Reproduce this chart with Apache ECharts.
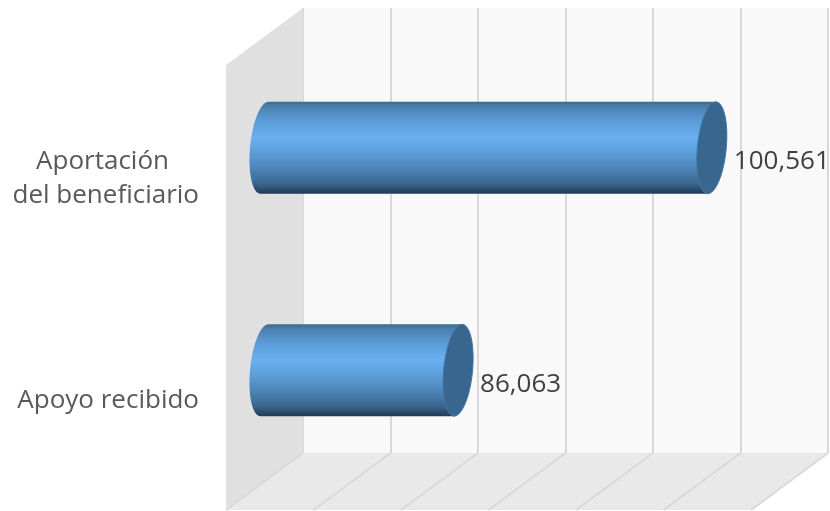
<!DOCTYPE html>
<html>
<head>
<meta charset="utf-8">
<style>
html, body { margin: 0; padding: 0; background: #fff; }
#chart { width: 830px; height: 511px; }
</style>
<script src="https://cdn.jsdelivr.net/npm/echarts@6/dist/echarts.min.js"></script>
</head>
<body>
<div id="chart"></div>
<script>
// values
const categories = ['Apoyo recibido', 'Aportación\ndel beneficiario']
const values = [86063, 100561]
const axisMin = 75000
const axisMax = 105000
const axisStep = 5000
const floorTicks = [75000, 80000, 85000, 90000, 95000, 100000, 105000]

// fake 3d: how far the front of the box sits from the back wall
const DEPTH_X = -77
const DEPTH_Y = 57

function ellipsePoints(cx, cy, rx, ry, skew, from, to) {
    const pts = []
    const steps = 36
    for (let i = 0; i <= steps; i++) {
        const t = from + (to - from) * i / steps
        pts.push([cx + rx * Math.cos(t) - skew * Math.sin(t), cy + ry * Math.sin(t)])
    }
    return pts
}

function renderWalls(params, api) {
    const tl = api.coord([axisMin, categories[1]])
    const left = tl[0]
    const right = api.coord([axisMax, categories[1]])[0]
    const top = params.coordSys.y
    const bottom = top + params.coordSys.height
    return {
        type: 'group',
        children: [{
            type: 'polygon',
            shape: { points: [[left, top], [left, bottom], [left + DEPTH_X, bottom + DEPTH_Y], [left + DEPTH_X, top + DEPTH_Y]] },
            style: { fill: '#e0e0e0' }
        }, {
            type: 'polygon',
            shape: { points: [[left, bottom], [right, bottom], [right + DEPTH_X, bottom + DEPTH_Y], [left + DEPTH_X, bottom + DEPTH_Y]] },
            style: { fill: '#e9e9e9' }
        }]
    }
}

function renderFloorLine(params, api) {
    const x = api.coord([api.value(0), categories[0]])[0]
    const bottom = params.coordSys.y + params.coordSys.height
    return {
        type: 'line',
        shape: { x1: x, y1: bottom, x2: x + DEPTH_X, y2: bottom + DEPTH_Y },
        style: { stroke: '#d9d9d9', lineWidth: 2 }
    }
}

function renderCylinder(params, api) {
    // bars stand halfway between the back wall and the front edge
    const end = api.coord([api.value(0), api.value(1)])
    const start = api.coord([axisMin, api.value(1)])
    const cy = end[1] + DEPTH_Y / 2
    const x0 = start[0] + DEPTH_X / 2
    const x1 = end[0] + DEPTH_X / 2
    const ry = api.size([0, 1])[1] * 0.2067
    const rx = 14.5
    const skew = 4
    const body = ellipsePoints(x0, cy, rx, ry, skew, Math.PI / 2, Math.PI * 1.5)
        .concat([[x1 + skew, cy - ry], [x1 - skew, cy + ry]])
    return {
        type: 'group',
        children: [{
            type: 'polygon',
            shape: { points: body },
            style: {
                fill: new echarts.graphic.LinearGradient(0, 0, 0, 1, [
                    { offset: 0, color: '#3c6a92' },
                    { offset: 0.05, color: '#4a7fae' },
                    { offset: 0.2, color: '#5a9bd6' },
                    { offset: 0.39, color: '#69b0f2' },
                    { offset: 0.55, color: '#5c9ed9' },
                    { offset: 0.75, color: '#4a81b3' },
                    { offset: 0.9, color: '#386389' },
                    { offset: 1, color: '#1f3a55' }
                ])
            }
        }, {
            type: 'polygon',
            shape: { points: ellipsePoints(x1, cy, rx, ry, skew, 0, Math.PI * 2) },
            style: { fill: '#39668e', stroke: '#4077a6', lineWidth: 1 }
        }, {
            type: 'text',
            style: {
                x: x1 + 22,
                y: cy + 14,
                text: echarts.format.addCommas(api.value(0)),
                fill: '#404040',
                fontFamily: 'Open Sans',
                fontSize: 26,
                verticalAlign: 'middle',
                align: 'left'
            }
        }]
    }
}

const myChart = echarts.init(document.getElementById('chart'), null, { renderer: 'canvas' })
myChart.setOption({
    animation: false,
    backgroundColor: '#ffffff',
    grid: [{
        // back wall
        left: 303, top: 8, width: 525, height: 445,
        show: true, backgroundColor: '#f9f9f9', borderWidth: 0
    }, {
        // front edge, only there to place the category labels
        left: 226, top: 68, width: 525, height: 445
    }],
    xAxis: [{
        type: 'value', gridIndex: 0, min: axisMin, max: axisMax, interval: axisStep,
        axisLabel: { show: false }, axisLine: { show: false }, axisTick: { show: false },
        splitLine: { show: true, lineStyle: { color: '#d9d9d9', width: 2 } }
    }, {
        type: 'value', gridIndex: 1, min: axisMin, max: axisMax, show: false, splitLine: { show: false }
    }],
    yAxis: [{
        type: 'category', gridIndex: 0, data: categories,
        axisLabel: { show: false }, axisLine: { show: false }, axisTick: { show: false }
    }, {
        type: 'category', gridIndex: 1, data: categories,
        axisLine: { show: false }, axisTick: { show: false }, splitLine: { show: false },
        axisLabel: {
            margin: 27,
            formatter: function (v) {
                const lines = v.split('\n')
                return lines.length > 1 ? '{a|' + lines[0] + '}\n{b|' + lines[1] + '}' : '{b|' + v + '}'
            },
            rich: {
                a: { fontFamily: 'Open Sans', fontSize: 26, color: '#595959', lineHeight: 34, padding: [0, 30, 0, 0] },
                b: { fontFamily: 'Open Sans', fontSize: 26, color: '#595959', lineHeight: 34 }
            }
        }
    }],
    series: [{
        type: 'custom', name: 'walls', silent: true, z: 1,
        xAxisIndex: 0, yAxisIndex: 0, clip: false,
        renderItem: renderWalls, data: [[axisMin]], encode: { x: 0 }
    }, {
        type: 'custom', name: 'floor', silent: true, z: 2,
        xAxisIndex: 0, yAxisIndex: 0, clip: false,
        renderItem: renderFloorLine, data: floorTicks.map(v => [v]), encode: { x: 0 }
    }, {
        type: 'custom', name: 'valores', z: 3,
        xAxisIndex: 0, yAxisIndex: 0, clip: false,
        renderItem: renderCylinder,
        data: values.map((v, i) => [v, i]),
        encode: { x: 0, y: 1 }
    }]
})
</script>
</body>
</html>
